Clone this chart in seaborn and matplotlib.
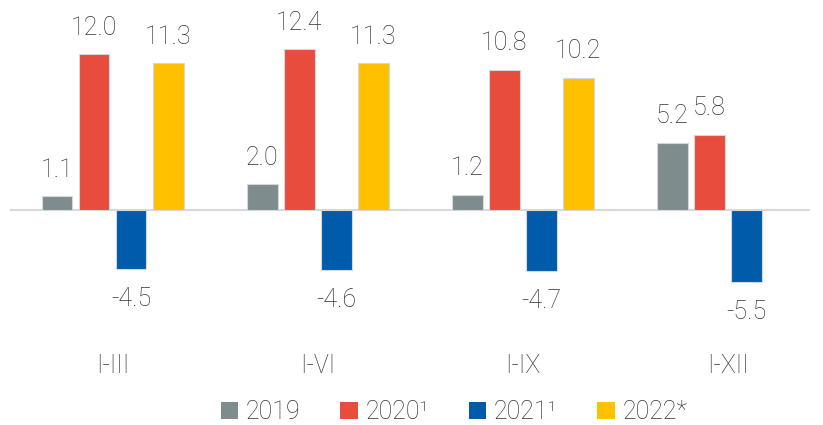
import pandas as pd
import numpy as np
import matplotlib
matplotlib.use("Agg")
import matplotlib.pyplot as plt
import seaborn as sns
from matplotlib.patches import Patch

periods = ["I-III", "I-VI", "I-IX", "I-XII"]
series = ["2019", "2020\u00b9", "2021\u00b9", "2022*"]
v2019 = [1.1, 2.0, 1.2, 5.2]
v2020 = [12.0, 12.4, 10.8, 5.8]
v2021 = [-4.5, -4.6, -4.7, -5.5]
v2022 = [11.3, 11.3, 10.2, np.nan]
colors = ["#7F8C8D", "#E74C3C", "#005BAA", "#FFC000"]

sns.set_style("white")
plt.rcParams['font.family'] = ['Roboto', 'DejaVu Sans']
text_color = "#333333"
fsize = 18

rows = []
for s, vals in zip(series, [v2019, v2020, v2021, v2022]):
    for p, v in zip(periods, vals):
        rows.append({"period": p, "series": s, "value": v})
df = pd.DataFrame(rows)

fig = plt.figure(figsize=(8.23, 4.25), dpi=100)
ax = fig.add_axes([10 / 823, 95 / 425, 800 / 823, 320 / 425])

sns.barplot(data=df, x="period", y="value", hue="series", order=periods,
            hue_order=series, palette=colors, saturation=1, width=0.722, gap=0.167,
            edgecolor="#d4d8da", linewidth=0.8, ax=ax, legend=False)

ax.axhline(0, color="#d9d9d9", linewidth=1.5, zorder=0)
ax.set_xlim(-0.50, 3.40)
ax.set_ylim(-9.2, 15.4)

for cont in ax.containers:
    for bar in cont:
        h = bar.get_height()
        if np.isnan(h):
            continue
        x = bar.get_x() + bar.get_width() / 2
        if h >= 0:
            ax.annotate(f"{h:.1f}", (x, h), xytext=(0, 19), textcoords="offset points",
                        ha="center", va="center", fontsize=fsize, fontweight="light",
                        color=text_color)
        else:
            ax.annotate(f"{h:.1f}", (x, h), xytext=(0, -21.5), textcoords="offset points",
                        ha="center", va="center", fontsize=fsize, fontweight="light",
                        color=text_color)

ax.set_xlabel("")
ax.set_ylabel("")
ax.set_yticks([])
ax.set_xticks([])
sns.despine(ax=ax, left=True, bottom=True)

# category labels under the groups
for i, p in enumerate(periods):
    ax.text(i, -0.112, p, transform=ax.get_xaxis_transform(), ha="center", va="center",
            fontsize=fsize, fontweight="light", color=text_color)

handles = [Patch(facecolor=c, edgecolor="none") for c in colors]
fig.legend(handles, series, loc="center", bbox_to_anchor=(454 / 823, 1 - 412 / 425),
           ncol=4, frameon=False, handlelength=0.7, handleheight=0.7,
           handletextpad=0.3, columnspacing=1.6, labelcolor=text_color,
           prop={"weight": "light", "size": fsize})

fig.savefig("out.png", dpi=100)
